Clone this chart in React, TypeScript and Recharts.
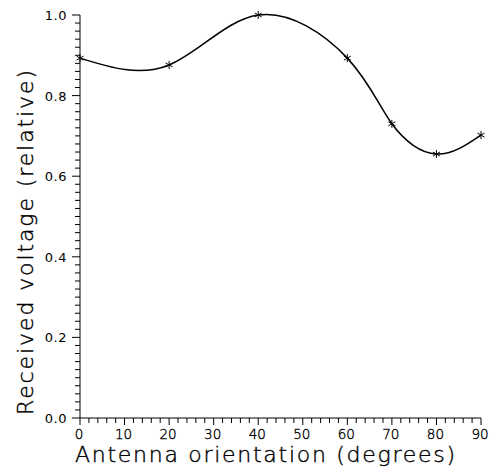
import { LineChart, Line, XAxis, YAxis, Label } from 'recharts'

// Orientation (degrees) and relative voltage
const angles = [0, 20, 40, 60, 70, 80, 90]
const voltages = [0.893, 0.876, 1.0, 0.893, 0.73, 0.655, 0.702]

const xLabels = ['0', '10', '20', '30', '40', '50', '60', '70', '80', '90']
const yLabels = ['0.0', '0.2', '0.4', '0.6', '0.8', '1.0']

const data = angles.map((a, i) => ({ angle: a, voltage: voltages[i] }))

// minor tick positions: every 2 degrees and every 0.02
const xTicks = Array.from({ length: 46 }, (_, i) => i * 2)
const yTicks = Array.from({ length: 51 }, (_, i) => Math.round(i * 2) / 100)

const FONT = '"DejaVu Sans", "Liberation Sans", sans-serif'

function XTick({ x, y, payload }: any) {
  const v = payload.value
  const major = v % 10 === 0
  return (
    <g>
      <line x1={x} x2={x} y1={y} y2={y + (major ? 7 : 5)} stroke="#000" strokeWidth={1} />
      {major && (
        <text x={x - 1} y={y + 21} textAnchor="middle" fontFamily={FONT} fontSize={13.5}
          fontWeight={200} fill="#000" stroke="#000" strokeWidth={0.35}>
          {xLabels[v / 10]}
        </text>
      )}
    </g>
  )
}

function YTick({ x, y, payload }: any) {
  const v = payload.value
  const k = Math.round(v * 5)
  const major = Math.abs(v * 5 - k) < 1e-6
  return (
    <g>
      <line x1={x - (major ? 8 : 5)} x2={x} y1={y} y2={y} stroke="#000" strokeWidth={1} />
      {major && (
        <text x={x - 13} y={y + 5} textAnchor="end" fontFamily={FONT} fontSize={13}
          fill="#000" letterSpacing={0.5}>
          {yLabels[k]}
        </text>
      )}
    </g>
  )
}

function Star({ cx, cy }: any) {
  const r = 4
  const d = r * 0.87
  return (
    <g stroke="#000" strokeWidth={1}>
      <line x1={cx} y1={cy - r} x2={cx} y2={cy + r} />
      <line x1={cx - d} y1={cy - r / 2} x2={cx + d} y2={cy + r / 2} />
      <line x1={cx - d} y1={cy + r / 2} x2={cx + d} y2={cy - r / 2} />
    </g>
  )
}

export default function App() {
  return (
    <div style={{ position: 'absolute', left: 0, top: 0, background: '#fff' }}>
      <LineChart width={492} height={470} data={data}
        margin={{ top: 15, right: 11, left: 0, bottom: 0 }}>
        <XAxis dataKey="angle" type="number" domain={[0, 90]} ticks={xTicks}
          interval={0} height={52} tickSize={0} tickMargin={0} tickLine={false}
          tick={<XTick />} axisLine={{ stroke: '#000', strokeWidth: 1 }}>
          <Label content={() => (
            <text x={75} y={462} textAnchor="start" fontFamily={FONT} fontSize={22}
              fontWeight={200} fill="#000" stroke="#000" strokeWidth={0.4}
              textLength={380} lengthAdjust="spacing">
              Antenna orientation (degrees)
            </text>
          )} />
        </XAxis>
        <YAxis type="number" domain={[0, 1]} ticks={yTicks} interval={0} width={80}
          tickSize={0} tickMargin={0} tickLine={false} tick={<YTick />}
          axisLine={{ stroke: '#000', strokeWidth: 1 }}>
          <Label content={() => (
            <text x={33} y={415} transform="rotate(-90 33 415)" textAnchor="start"
              fontFamily={FONT} fontSize={22} fontWeight={200} fill="#000"
              stroke="#000" strokeWidth={0.4} textLength={345} lengthAdjust="spacing">
              Received voltage (relative)
            </text>
          )} />
        </YAxis>
        <Line type="natural" dataKey="voltage" stroke="#000" strokeWidth={1.5}
          dot={<Star />} activeDot={false} isAnimationActive={false} />
      </LineChart>
    </div>
  )
}
